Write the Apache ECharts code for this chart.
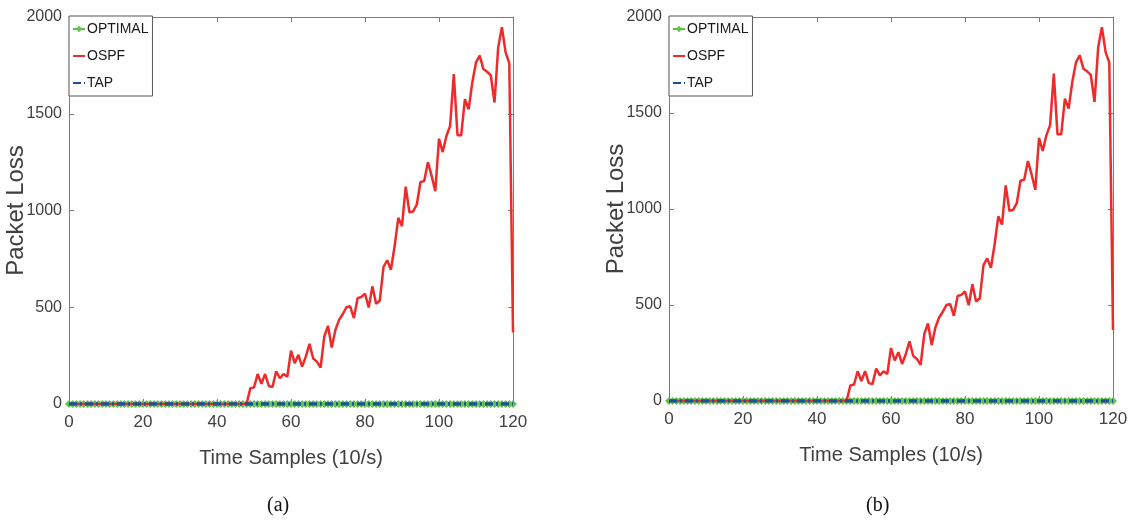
<!DOCTYPE html>
<html>
<head>
<meta charset="utf-8">
<script src="https://cdn.jsdelivr.net/npm/echarts@6/dist/echarts.min.js"></script>
<style>
  html, body { margin: 0; padding: 0; background: #fff; }
  #main { width: 1133px; height: 525px; }
</style>
</head>
<body>
<div id="main"></div>
<script>
// time sample index (x axis), 0..120
var samples = Array.from({ length: 121 }, function (_, i) { return i; });

var xTicks = [0, 20, 40, 60, 80, 100, 120];
var yTicks = [0, 500, 1000, 1500, 2000];

// packet loss
var OSPF = [
  0, 0, 0, 0, 0, 0, 0, 0, 0, 0,
  0, 0, 0, 0, 0, 0, 0, 0, 0, 0,
  0, 0, 0, 0, 0, 0, 0, 0, 0, 0,
  0, 0, 0, 0, 0, 0, 0, 0, 0, 0,
  0, 0, 0, 0, 0, 0, 0, 0, 0,
  81, 86, 155, 104, 155, 93, 88, 169, 133, 155,
  141, 276, 211, 254, 193, 245, 311, 235, 219, 188,
  349, 404, 292, 383, 435, 465, 500, 505, 444, 547,
  553, 570, 499, 608, 518, 535, 708, 743, 694, 815,
  962, 919, 1123, 991, 995, 1031, 1147, 1152, 1250, 1180,
  1100, 1371, 1302, 1385, 1437, 1705, 1389, 1389, 1575, 1523,
  1661, 1765, 1800, 1731, 1717, 1699, 1558, 1843, 1947, 1817,
  1762, 370
];
var OPTIMAL = [
  0, 0, 0, 0, 0, 0, 0, 0, 0, 0, 0, 0, 0, 0, 0, 0, 0, 0, 0, 0,
  0, 0, 0, 0, 0, 0, 0, 0, 0, 0, 0, 0, 0, 0, 0, 0, 0, 0, 0, 0,
  0, 0, 0, 0, 0, 0, 0, 0, 0, 0, 0, 0, 0, 0, 0, 0, 0, 0, 0, 0,
  0, 0, 0, 0, 0, 0, 0, 0, 0, 0, 0, 0, 0, 0, 0, 0, 0, 0, 0, 0,
  0, 0, 0, 0, 0, 0, 0, 0, 0, 0, 0, 0, 0, 0, 0, 0, 0, 0, 0, 0,
  0, 0, 0, 0, 0, 0, 0, 0, 0, 0, 0, 0, 0, 0, 0, 0, 0, 0, 0, 0,
  0
];
var TAP = [
  0, 0, 0, 0, 0, 0, 0, 0, 0, 0, 0, 0, 0, 0, 0, 0, 0, 0, 0, 0,
  0, 0, 0, 0, 0, 0, 0, 0, 0, 0, 0, 0, 0, 0, 0, 0, 0, 0, 0, 0,
  0, 0, 0, 0, 0, 0, 0, 0, 0, 0, 0, 0, 0, 0, 0, 0, 0, 0, 0, 0,
  0, 0, 0, 0, 0, 0, 0, 0, 0, 0, 0, 0, 0, 0, 0, 0, 0, 0, 0, 0,
  0, 0, 0, 0, 0, 0, 0, 0, 0, 0, 0, 0, 0, 0, 0, 0, 0, 0, 0, 0,
  0, 0, 0, 0, 0, 0, 0, 0, 0, 0, 0, 0, 0, 0, 0, 0, 0, 0, 0, 0,
  0
];

var seriesNames = ['OPTIMAL', 'OSPF', 'TAP'];
var captions = ['(a)', '(b)'];

var sans = "'Liberation Sans', Arial, sans-serif";
var frameColor = '#7a7a7a';
var labelColor = '#404040';

function pairs(vals) {
  return samples.map(function (s, i) { return [s, vals[i]]; });
}

// two identical panels
var panels = [
  { left: 69, top: 17, height: 387, caption: 277 },
  { left: 669, top: 17, height: 384, caption: 876 }
];

var grid = [], xAxis = [], yAxis = [], series = [], legend = [], graphic = [];

panels.forEach(function (p, k) {
  grid.push({ left: p.left, top: p.top, width: 444, height: p.height, outerBoundsMode: 'none' });

  var tick = { show: true, inside: true, length: 5, lineStyle: { color: frameColor } };
  var line = { show: true, onZero: false, lineStyle: { color: frameColor, width: 1 } };

  xAxis.push({
    type: 'value', gridIndex: k, min: 0, max: 120, interval: 20,
    axisLine: line, axisTick: tick, splitLine: { show: false },
    axisLabel: { color: labelColor, fontFamily: sans, fontSize: 17, margin: 10 },
    name: 'Time Samples (10/s)', nameLocation: 'middle', nameGap: 44,
    nameTextStyle: { color: labelColor, fontFamily: sans, fontSize: 20 }
  });
  xAxis.push({
    type: 'value', gridIndex: k, position: 'top', min: 0, max: 120, interval: 20,
    axisLine: line, axisTick: tick, axisLabel: { show: false }, splitLine: { show: false }
  });
  yAxis.push({
    type: 'value', gridIndex: k, min: 0, max: 2000, interval: 500,
    axisLine: line, axisTick: tick, splitLine: { show: false },
    axisLabel: { color: labelColor, fontFamily: sans, fontSize: 16, margin: 7,
      formatter: function (v) { return String(v); } },
    name: 'Packet Loss', nameLocation: 'middle', nameGap: 41, nameMoveOverlap: false,
    nameTextStyle: { color: labelColor, fontFamily: sans, fontSize: 24 }
  });
  yAxis.push({
    type: 'value', gridIndex: k, position: 'right', min: 0, max: 2000, interval: 500,
    axisLine: line, axisTick: tick, axisLabel: { show: false }, splitLine: { show: false }
  });

  var xi = k * 2, yi = k * 2;
  series.push({
    name: 'OPTIMAL', type: 'line', xAxisIndex: xi, yAxisIndex: yi, z: 2,
    data: pairs(OPTIMAL), symbol: 'diamond', symbolSize: 8, showSymbol: true,
    lineStyle: { color: '#57bf3f', width: 3 }, itemStyle: { color: '#62c44b' },
    animation: false
  });
  series.push({
    name: 'OSPF', type: 'line', xAxisIndex: xi, yAxisIndex: yi, z: 3,
    data: pairs(OSPF), symbol: 'none',
    lineStyle: { color: '#ee2a2a', width: 2.5 }, itemStyle: { color: '#ee2a2a' },
    animation: false
  });
  series.push({
    name: 'TAP', type: 'line', xAxisIndex: xi, yAxisIndex: yi, z: 4,
    data: pairs(TAP), symbol: 'none',
    lineStyle: { color: '#1f4e9e', width: 3.5, type: [8, 3, 2, 3] }, itemStyle: { color: '#1f4e9e' },
    animation: false
  });

  legend.push({
    data: [
      { name: 'OPTIMAL' },
      { name: 'OSPF', itemStyle: { opacity: 0 } },
      { name: 'TAP', itemStyle: { opacity: 0 } }
    ],
    orient: 'vertical', left: p.left, top: 16,
    backgroundColor: '#fff', borderColor: '#555', borderWidth: 1,
    padding: [6, 4, 6, 3], itemGap: 13, itemWidth: 12, itemHeight: 8,
    textStyle: { color: '#1a1a1a', fontFamily: sans, fontSize: 14, padding: [0, 0, 0, -3] }
  });

  graphic.push({
    type: 'text', left: p.caption - 10, top: 496,
    style: { text: captions[k], font: "20px 'Liberation Serif', 'Times New Roman', serif", fill: '#111' }
  });
});

var myChart = echarts.init(document.getElementById('main'));
myChart.setOption({
  animation: false,
  grid: grid,
  xAxis: xAxis,
  yAxis: yAxis,
  legend: legend,
  series: series,
  graphic: graphic
});
</script>
</body>
</html>
